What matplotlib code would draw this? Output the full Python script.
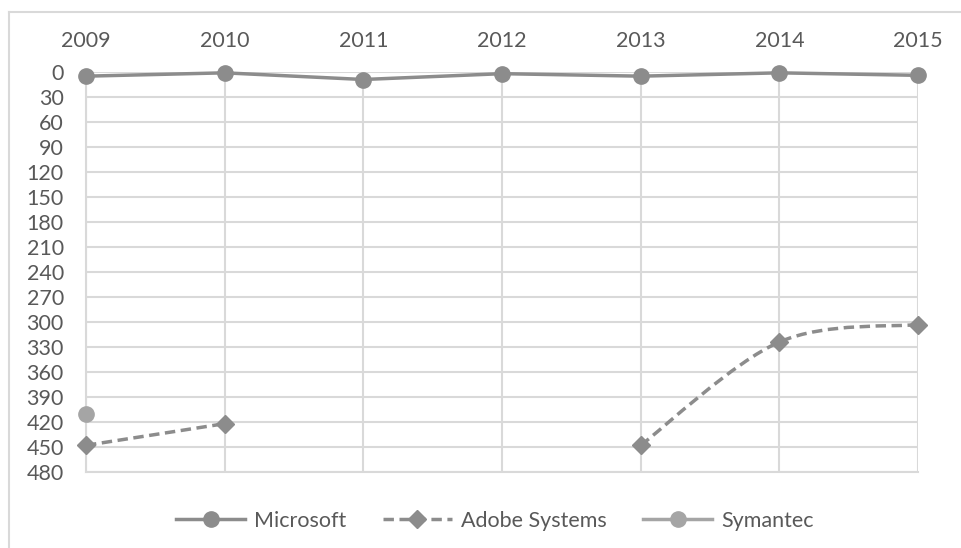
import numpy as np
import matplotlib.pyplot as plt
from matplotlib.path import Path
from matplotlib.patches import PathPatch
from matplotlib.lines import Line2D

years = ['2009', '2010', '2011', '2012', '2013', '2014', '2015']
microsoft = [5, 1, 9, 2, 5, 1, 4]
adobe = [448, 422, None, None, 448, 324, 303]
symantec = [410, None, None, None, None, None, None]
y_ticks = list(range(0, 481, 30))

plt.rcParams['font.family'] = ['Lato', 'DejaVu Sans']
txt = '#595959'
grid = '#d9d9d9'
c_ms = '#8c8c8c'
c_ad = '#8c8c8c'
c_sy = '#a5a5a5'
fs = 15.5

W, H = 961, 548
fig = plt.figure(figsize=(W / 100, H / 100), dpi=100)
ax = fig.add_axes([86 / W, 1 - 472 / H, (918 - 86) / W, 400 / H])

x = np.arange(len(years))

# рамка вокруг диаграммы (уходит за край картинки)
fig.add_artist(Line2D([9 / W, 1], [1 - 12 / H] * 2, color=grid, lw=1.5))
fig.add_artist(Line2D([9 / W] * 2, [0, 1 - 12 / H], color=grid, lw=1.5))

# Microsoft
ax.plot(x, microsoft, color=c_ms, lw=2.5, marker='o', ms=11, zorder=4,
        label='Microsoft', solid_capstyle='round', clip_on=False)


def smooth_segments(xs, ys):
    # сглаженные участки как в Excel (кривые Безье по соседним точкам)
    runs, cur = [], []
    for xx, yy in zip(xs, ys):
        if yy is None:
            if cur:
                runs.append(cur)
            cur = []
        else:
            cur.append(np.array((xx, yy), dtype=float))
    if cur:
        runs.append(cur)
    paths = []
    for r in runs:
        if len(r) < 2:
            continue
        verts = [r[0]]
        codes = [Path.MOVETO]
        for i in range(len(r) - 1):
            p0 = r[i - 1] if i > 0 else r[i]
            p1, p2 = r[i], r[i + 1]
            p3 = r[i + 2] if i + 2 < len(r) else r[i + 1]
            c1 = p1 + (p2 - p0) / 6
            c2 = p2 - (p3 - p1) / 6
            verts += [c1, c2, p2]
            codes += [Path.CURVE4] * 3
        paths.append(Path(verts, codes))
    return paths


for p in smooth_segments(x, adobe):
    ax.add_patch(PathPatch(p, fill=False, edgecolor=c_ad, lw=2.5,
                           linestyle=(0, (3, 1.6)), zorder=3, clip_on=False))
ad_x = [xx for xx, v in zip(x, adobe) if v is not None]
ad_y = [v for v in adobe if v is not None]
ax.plot(ad_x, ad_y, ls='none', marker='D', ms=9.5, color=c_ad, zorder=4,
        clip_on=False)

sy_x = [xx for xx, v in zip(x, symantec) if v is not None]
sy_y = [v for v in symantec if v is not None]
ax.plot(sy_x, sy_y, ls='none', marker='o', ms=11, color=c_sy, zorder=4,
        clip_on=False)

ax.set_xlim(0, 6)
ax.set_ylim(480, 0)
ax.set_xticks(x)
ax.set_xticklabels(years)
ax.set_yticks(y_ticks)
ax.xaxis.tick_top()
ax.tick_params(length=0, labelsize=fs, colors=txt)
ax.tick_params(axis='x', pad=15)
ax.tick_params(axis='y', pad=16)
ax.grid(True, color=grid, lw=1.5)
ax.set_axisbelow(True)
for s in ax.spines.values():
    s.set_visible(False)
ax.spines['left'].set_visible(True)
ax.spines['left'].set_color(grid)
ax.spines['left'].set_linewidth(1.5)
ax.spines['bottom'].set_visible(True)
ax.spines['bottom'].set_color(grid)
ax.spines['bottom'].set_linewidth(1.5)

handles = [
    Line2D([], [], color=c_ms, lw=2.5, marker='o', ms=11),
    Line2D([], [], color=c_ad, lw=2.5, ls=(0, (3, 1.6)), marker='D', ms=9.5),
    Line2D([], [], color=c_sy, lw=2.5, marker='o', ms=11),
]
fig.legend(handles, ['Microsoft', 'Adobe Systems', 'Symantec'],
           loc='center', bbox_to_anchor=(495 / W, 1 - 521 / H), ncol=3,
           frameon=False, fontsize=fs, labelcolor=txt, handlelength=3.2,
           handletextpad=0.42, columnspacing=1.7)

fig.savefig('out.png', dpi=100)
